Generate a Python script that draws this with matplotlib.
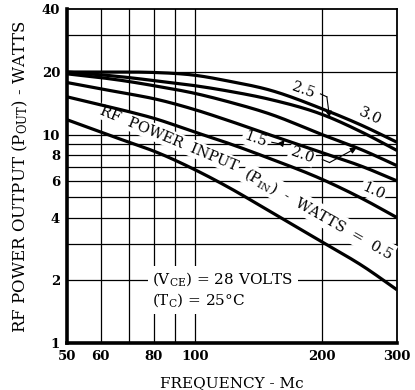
import numpy as np
import matplotlib
matplotlib.use('Agg')
import matplotlib.pyplot as plt
from matplotlib.ticker import FixedLocator, FixedFormatter, NullLocator

plt.rcParams['font.family'] = 'DejaVu Serif'
plt.rcParams['mathtext.fontset'] = 'dejavuserif'

# frecuencia (Mc) y potencia de salida (W) para cada potencia de entrada
freq = [50, 60, 70, 80, 100, 120, 150, 200, 250, 300]
p_in_30 = [20, 20, 20, 19.9, 19.3, 18.1, 16.4, 13.3, 11.0, 9.2]
p_in_25 = [20, 19.4, 18.8, 18.2, 17.2, 16.2, 14.8, 12.5, 10.2, 8.4]
p_in_20 = [19.6, 18.8, 18.0, 17.2, 15.8, 14.4, 12.6, 10.0, 8.4, 7.1]
p_in_15 = [17.8, 16.6, 15.7, 14.9, 13.2, 11.7, 10.0, 8.2, 7.0, 6.0]
p_in_10 = [15.2, 13.9, 12.9, 12.0, 10.3, 9.1, 7.7, 6.1, 4.9, 4.0]
p_in_05 = [11.8, 10.3, 9.2, 8.35, 6.8, 5.6, 4.3, 3.05, 2.33, 1.8]
curvas = [p_in_05, p_in_10, p_in_15, p_in_20, p_in_25, p_in_30]

x_ticks = [50, 60, 80, 100, 200, 300]
x_grid = [60, 70, 80, 90, 100, 200]
y_ticks = [1, 2, 4, 6, 8, 10, 20, 40]
y_grid = [2, 3, 4, 5, 6, 7, 8, 9, 10, 20, 30]

# etiquetas de curva: texto, (f, P) del centro, rotacion
etiquetas = [('2.5', 180, 16.3, -20), ('3.0', 259, 12.2, -25),
             ('1.5', 139, 9.5, -20), ('2.0', 179, 8.0, -20),
             ('1.0', 264, 5.35, -25)]
# flechas: curva, fin del texto, codo, frecuencia de la punta
flechas = [(p_in_25, (198, 15.7), (205, 15.2), 208),
           (p_in_15, (152, 9.2), (160, 9.0), 163),
           (p_in_20, (200, 7.6), (208, 7.35), 241)]

# texto a lo largo de la curva de 0.5 W, en dos tramos
tramos = [('RF  POWER  INPUT', 87, 9.6, -22.6),
          (r'(P$_{\mathrm{IN}}$)  -  WATTS  =  0.5', 195.5, 4.19, -29.6)]


def en_curva(curva, f):
    # hermite cubico en escala log-log
    x = np.log10(freq)
    y = np.log10(curva)
    m = np.gradient(y, x)
    xs = np.log10(np.atleast_1d(f))
    i = np.clip(np.searchsorted(x, xs) - 1, 0, len(x) - 2)
    h = x[i + 1] - x[i]
    t = (xs - x[i]) / h
    ys = ((2 * t**3 - 3 * t**2 + 1) * y[i] + (t**3 - 2 * t**2 + t) * h * m[i]
          + (-2 * t**3 + 3 * t**2) * y[i + 1] + (t**3 - t**2) * h * m[i + 1])
    return 10 ** ys


fig = plt.figure(figsize=(4.15, 3.9), dpi=100)
ax = fig.add_axes([67 / 415, 47 / 390, 330 / 415, 333.7 / 390])
ax.set_xscale('log')
ax.set_yscale('log')
ax.set_xlim(50, 300)
ax.set_ylim(1, 40)

for g in x_grid:
    ax.axvline(g, color='k', lw=0.9, zorder=1)
for g in y_grid:
    ax.axhline(g, color='k', lw=0.9, zorder=1)

ax.xaxis.set_major_locator(FixedLocator(x_ticks))
ax.xaxis.set_major_formatter(FixedFormatter([str(v) for v in x_ticks]))
ax.xaxis.set_minor_locator(NullLocator())
ax.yaxis.set_major_locator(FixedLocator(y_ticks))
ax.yaxis.set_major_formatter(FixedFormatter([str(v) for v in y_ticks]))
ax.yaxis.set_minor_locator(NullLocator())
ax.tick_params(length=0, labelsize=9.5, pad=5)
for lab in ax.get_xticklabels() + ax.get_yticklabels():
    lab.set_fontweight('bold')

for side in ['left', 'bottom']:
    ax.spines[side].set_linewidth(2.6)
for side in ['top', 'right']:
    ax.spines[side].set_linewidth(1.3)

fs = np.logspace(np.log10(50), np.log10(300), 300)
for curva in curvas:
    ax.plot(fs, en_curva(curva, fs), color='k', lw=2.3, zorder=4,
            solid_capstyle='butt')

caja = dict(boxstyle='square,pad=0.12', fc='white', ec='none')
for txt, f, p, rot in etiquetas:
    ax.text(f, p, txt, rotation=rot, ha='center', va='center', fontsize=10.5,
            bbox=caja, zorder=3, rotation_mode='anchor')
for txt, f, p, rot in tramos:
    ax.text(f, p, txt, rotation=rot, ha='center', va='center', fontsize=10.5,
            bbox=caja, zorder=3, rotation_mode='anchor')

for curva, inicio, codo, f_punta in flechas:
    ax.plot([inicio[0], codo[0]], [inicio[1], codo[1]], color='k', lw=0.8, zorder=5)
    ax.annotate('', xy=(f_punta, en_curva(curva, f_punta)[0]), xytext=codo,
                arrowprops=dict(arrowstyle='-|>', lw=0.8, color='k',
                                mutation_scale=9, shrinkA=0, shrinkB=0),
                zorder=5)

caja2 = dict(boxstyle='square,pad=0.3', fc='white', ec='none')
ax.text(79.5, 2.02, r'(V$_{\mathrm{CE}}$) = 28 VOLTS', ha='left', va='center',
        fontsize=11, bbox=caja2, zorder=3)
ax.text(79.5, 1.6, r'(T$_{\mathrm{C}}$) = 25$\degree$C', ha='left', va='center',
        fontsize=11, bbox=caja2, zorder=3)

ax.set_xlabel('FREQUENCY - Mc', fontsize=11)
ax.xaxis.set_label_coords(0.5, -0.1)
ax.set_ylabel(r'RF POWER OUTPUT (P$_{\mathrm{OUT}}$) - WATTS', fontsize=12)
ax.yaxis.set_label_coords(-0.112, 0.5)

fig.savefig('out.png', dpi=100)
